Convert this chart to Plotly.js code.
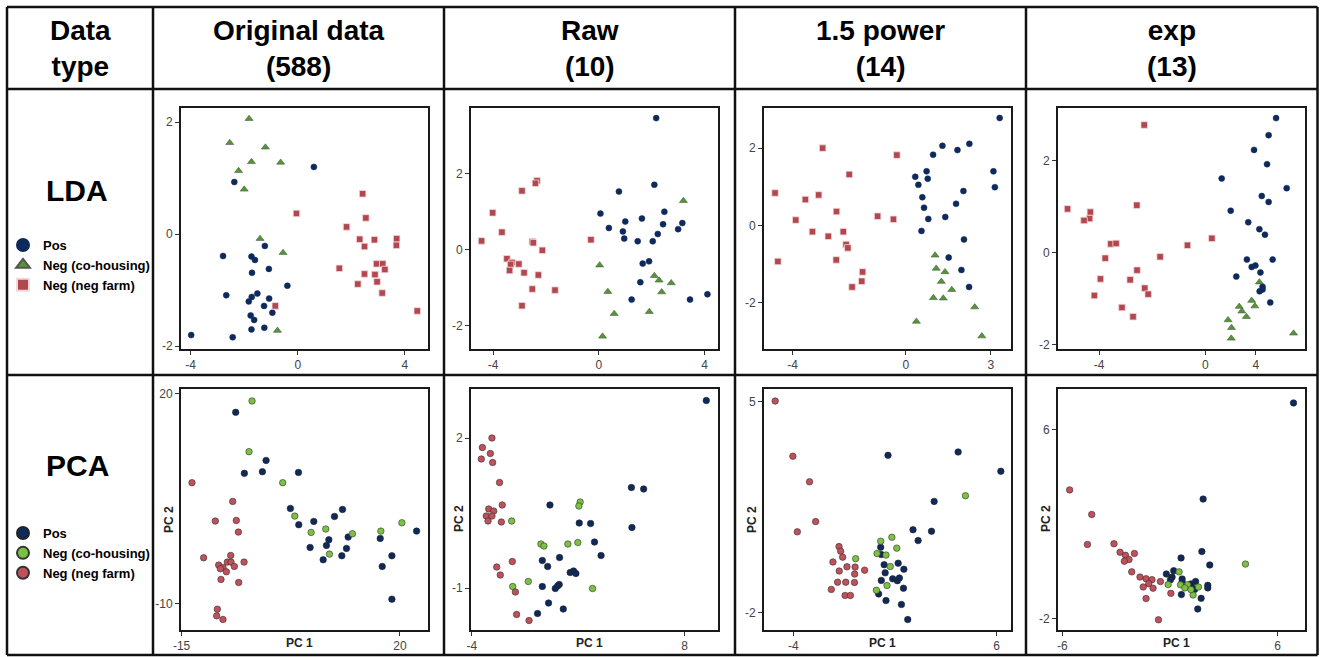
<!DOCTYPE html>
<html>
<head>
<meta charset="utf-8">
<script src="https://cdn.plot.ly/plotly-3.0.1.min.js"></script>
<style>html,body{margin:0;padding:0;background:#fff;}#chart{width:1326px;height:657px;}</style>
</head>
<body>
<div id="chart"></div>
<script>
// ---------- DATA ----------
const groupNames = ['Pos', 'Neg (co-housing)', 'Neg (neg farm)'];
const colHeaders = ['Original data<br>(588)', 'Raw<br>(10)', '1.5 power<br>(14)', 'exp<br>(13)'];
const rowHeaders = ['LDA', 'PCA'];
const cornerHeader = 'Data<br>type';

// LDA - Original data
const ldaOrigPosX = [0.60,-2.37,-1.23,-2.79,-1.73,-1.60,-1.08,-1.71,-0.39,-2.67,-1.51,-1.72,-1.07,-1.83,-1.26,-0.95,-1.76,-1.63,-1.73,-1.25,-3.98,-2.43];
const ldaOrigPosY = [1.20,0.93,-0.21,-0.39,-0.40,-0.46,-0.62,-0.69,-0.92,-1.09,-1.06,-1.12,-1.15,-1.20,-1.28,-1.40,-1.45,-1.53,-1.70,-1.67,-1.80,-1.84];
const ldaOrigCoX = [-1.82,-2.54,-1.21,-1.73,-0.64,-2.21,-2.00,-1.41,-0.55,-0.76];
const ldaOrigCoY = [2.06,1.63,1.55,1.29,1.28,1.13,0.80,-0.08,-0.33,-1.72];
const ldaOrigFarmX = [2.42,-0.05,2.54,1.82,2.31,2.86,3.69,2.49,3.68,1.55,2.94,3.17,3.25,2.49,2.88,2.96,2.24,3.15,-0.84,4.46];
const ldaOrigFarmY = [0.72,0.37,0.29,0.13,-0.09,-0.10,-0.08,-0.22,-0.20,-0.61,-0.53,-0.53,-0.63,-0.71,-0.72,-0.85,-0.89,-1.05,-1.28,-1.37];

// LDA - Raw
const ldaRawPosX = [2.17,2.10,0.76,0.06,2.48,1.00,1.63,3.16,0.38,2.43,0.91,3.00,2.23,0.96,1.47,2.04,1.90,1.66,1.57,1.24,3.45,4.11];
const ldaRawPosY = [3.47,1.71,1.53,0.95,1.00,0.74,0.82,0.70,0.57,0.67,0.48,0.54,0.41,0.29,0.22,0.22,-0.31,-0.37,-0.86,-1.32,-1.32,-1.18];
const ldaRawCoX = [3.20,0.03,2.10,2.28,2.74,0.34,2.38,0.58,1.91,0.14];
const ldaRawCoY = [1.29,-0.41,-0.69,-0.81,-0.88,-1.11,-1.12,-1.69,-1.64,-2.29];
const ldaRawFarmX = [-2.34,-2.40,-2.91,-4.02,-3.67,-4.44,-2.52,-2.48,-0.30,-2.14,-3.48,-3.29,-3.34,-3.03,-3.38,-2.83,-2.29,-2.52,-1.66,-2.91];
const ldaRawFarmY = [1.82,1.75,1.55,0.97,0.46,0.23,0.21,0.18,0.26,-0.02,-0.24,-0.34,-0.39,-0.38,-0.55,-0.61,-0.67,-1.04,-1.07,-1.48];

// LDA - 1.5 power
const ldaPowPosX = [3.31,2.24,1.29,1.82,0.96,0.73,3.09,0.33,0.77,0.44,3.14,2.03,0.58,1.77,0.64,1.39,0.79,0.55,2.05,1.51,1.96,2.23];
const ldaPowPosY = [2.78,2.11,2.06,1.95,1.83,1.40,1.40,1.26,1.21,1.05,0.99,0.89,0.73,0.56,0.46,0.22,0.17,-0.14,-0.36,-0.83,-1.15,-1.59];
const ldaPowCoX = [1.03,1.07,1.38,1.25,1.62,0.97,1.32,2.43,0.37,2.68];
const ldaPowCoY = [-0.77,-1.11,-1.20,-1.45,-1.66,-1.87,-1.88,-2.11,-2.48,-2.86];
const ldaPowFarmX = [-2.94,-0.32,-2.00,-4.62,-3.08,-3.55,-2.45,-3.89,-1.00,-0.44,-3.30,-2.21,-2.74,-2.11,-2.05,-4.52,-2.46,-1.53,-1.56,-1.90];
const ldaPowFarmY = [2.00,1.82,1.32,0.84,0.79,0.67,0.36,0.14,0.24,0.16,-0.16,-0.16,-0.28,-0.49,-0.58,-0.93,-0.89,-1.20,-1.44,-1.59];

// LDA - exp
const ldaExpPosX = [2.67,2.39,1.84,2.33,0.62,3.07,2.13,2.39,0.96,1.62,2.04,2.25,1.57,2.54,1.75,1.89,2.08,1.17,2.16,2.16,2.05,2.45];
const ldaExpPosY = [2.92,2.55,2.23,1.92,1.61,1.40,1.23,1.10,0.91,0.66,0.51,0.39,-0.15,-0.15,-0.31,-0.28,-0.43,-0.52,-0.74,-0.80,-0.84,-1.08];
const ldaExpCoX = [2.04,1.75,1.87,1.28,1.38,1.55,0.86,0.99,0.98,3.33];
const ldaExpCoY = [-0.64,-1.04,-1.16,-1.17,-1.27,-1.39,-1.46,-1.63,-1.86,-1.75];
const ldaExpFarmX = [-2.30,-5.19,-4.33,-4.36,-4.57,-2.58,0.25,-0.67,-3.56,-3.36,-3.77,-1.70,-2.57,-3.95,-2.83,-2.28,-2.15,-4.18,-3.14,-2.72];
const ldaExpFarmY = [2.77,0.95,0.88,0.74,0.70,1.03,0.31,0.16,0.19,0.20,-0.12,-0.09,-0.38,-0.57,-0.59,-0.77,-0.90,-0.93,-1.19,-1.39];

// PCA - Original data
const pcaOrigPosX = [-6.33,-1.46,-2.05,-4.94,3.73,2.44,10.79,9.51,3.78,6.19,8.60,11.70,8.22,5.60,11.43,7.69,10.68,16.84,22.67,18.71,17.16,18.71];
const pcaOrigPosY = [17.29,10.44,8.83,8.59,8.73,3.59,3.45,2.45,1.27,1.74,-0.88,-0.49,-1.68,-1.97,-2.11,-3.73,-3.16,-0.68,0.36,-3.16,-4.68,-9.34];
const pcaOrigCoX = [-3.71,-4.19,1.21,3.14,5.76,8.11,12.39,8.70,16.94,20.31];
const pcaOrigCoY = [18.91,11.68,7.26,2.50,0.17,0.65,-0.02,-2.92,0.36,1.55];
const pcaOrigFarmX = [-13.34,-6.81,-9.60,-6.23,-5.90,-11.47,-7.13,-7.67,-7.08,-4.99,-9.06,-6.55,-8.37,-8.79,-7.83,-8.69,-5.85,-9.27,-9.38,-8.37];
const pcaOrigFarmY = [7.26,4.59,1.79,1.88,0.22,-3.44,-3.11,-4.06,-4.06,-4.06,-4.49,-4.68,-4.82,-5.01,-5.44,-6.53,-6.96,-10.77,-11.72,-12.24];

// PCA - Raw
const pcaRawPosX = [9.22,5.00,5.69,5.03,0.41,2.06,2.70,2.92,3.29,0.95,-0.02,0.28,1.55,1.74,1.87,0.93,0.84,0.71,-0.02,0.33,1.16,-0.29];
const pcaRawPosY = [2.75,1.01,0.98,0.21,0.66,0.30,0.29,-0.08,-0.35,-0.39,-0.45,-0.57,-0.69,-0.66,-0.71,-0.93,-0.96,-1.01,-0.97,-1.30,-1.42,-1.51];
const pcaRawCoX = [2.11,2.04,-1.75,-0.10,0.07,1.42,1.98,-0.81,-1.69,2.81];
const pcaRawCoY = [0.72,0.64,0.34,-0.12,-0.16,-0.12,-0.09,-0.87,-0.97,-1.01];
const pcaRawFarmX = [-2.86,-3.40,-2.95,-3.46,-2.82,-2.43,-2.28,-3.04,-2.76,-3.18,-2.86,-3.08,-2.33,-1.71,-2.59,-2.39,-1.54,-1.47,-0.77];
const pcaRawFarmY = [2.00,1.81,1.69,1.58,1.51,1.11,0.66,0.58,0.54,0.44,0.44,0.34,0.32,-0.47,-0.58,-0.74,-1.08,-1.53,-1.65];

// PCA - 1.5 power
const pcaPowPosX = [0.66,4.11,6.21,2.93,1.89,2.80,2.14,0.30,0.33,0.47,1.16,1.44,0.52,0.33,0.89,1.12,1.22,1.42,0.20,0.56,1.32,1.63];
const pcaPowPosY = [3.21,3.32,2.68,1.68,0.74,0.69,0.38,0.16,-0.08,-0.42,-0.37,-0.57,-0.69,-0.94,-0.89,-0.95,-0.86,-1.20,-1.39,-1.61,-1.74,-2.24];
const pcaPowCoX = [4.47,0.30,0.85,1.09,0.12,0.56,-0.93,0.77,0.61,0.09];
const pcaPowCoY = [1.87,0.36,0.49,0.13,-0.05,-0.10,-0.22,-0.48,-1.11,-1.27];
const pcaPowFarmX = [-4.89,-4.02,-3.20,-2.90,-3.80,-1.75,-1.67,-1.57,-2.05,-1.36,-1.74,-0.96,-0.49,-0.98,-1.82,-1.42,-0.99,-2.13,-1.45,-1.19];
const pcaPowFarmY = [5.01,3.18,2.33,1.01,0.67,0.18,0.03,-0.17,-0.33,-0.49,-0.63,-0.50,-0.60,-0.73,-1.00,-1.00,-1.01,-1.24,-1.44,-1.44];

// PCA - exp
const pcaExpPosX = [6.89,1.85,1.78,2.22,0.62,0.21,-0.20,0.12,0.03,0.68,0.68,1.17,1.43,1.24,1.37,2.11,2.11,0.64,1.74,1.55];
const pcaExpPosY = [7.14,3.07,0.85,0.28,0.58,0.04,-0.10,-0.23,-0.34,-0.31,-0.44,-0.52,-0.42,-0.69,-0.76,-0.58,-0.69,-0.97,-1.13,-1.58];
const pcaExpCoX = [4.21,0.51,-0.10,0.59,0.98,0.83,1.59,1.29,1.17];
const pcaExpCoY = [0.32,-0.01,-0.55,-0.56,-0.56,-0.69,-0.65,-0.99,-0.76];
const pcaExpFarmX = [-5.59,-4.36,-4.60,-3.12,-2.78,-2.48,-1.98,-2.28,-2.54,-2.13,-1.67,-1.33,-1.00,-1.18,-1.49,-0.94,-0.53,0.05,-1.33,-0.64];
const pcaExpFarmY = [3.46,2.42,1.15,1.18,0.82,0.69,0.77,0.51,0.44,-0.01,-0.23,-0.30,-0.34,-0.51,-0.65,-0.70,-0.42,-0.92,-1.14,-2.04];

// Tick values / labels
const ldaOrigXTicks = [-4, 0, 4],  ldaOrigYTicks = [-2, 0, 2];
const ldaRawXTicks = [-4, 0, 4],   ldaRawYTicks = [-2, 0, 2];
const ldaPowXTicks = [-4, 0, 3],   ldaPowYTicks = [-2, 0, 2];
const ldaExpXTicks = [-4, 0, 1.91], ldaExpXTickText = ['-4', '0', '4'], ldaExpYTicks = [-2, 0, 2];
const pcaOrigXTicks = [-15, 20],   pcaOrigYTicks = [-10, 20];
const pcaRawXTicks = [-4, 8],      pcaRawYTicks = [-1, 2];
const pcaPowXTicks = [-4, 6],      pcaPowYTicks = [-2, 5];
const pcaExpXTicks = [-6, 6],      pcaExpYTicks = [-2, 6];
const pcXTitle = 'PC 1', pcYTitle = 'PC 2';

// ---------- LAYOUT HELPERS ----------
const W = 1326, H = 657;
const fx = p => p / W;
const fy = p => 1 - p / H;
const FONT = 'Liberation Sans, Arial, Helvetica, sans-serif';

const colPx = [[181, 428], [471, 718], [764, 1011], [1058, 1305]];
const rowPx = [[107.5, 348.5], [389, 629.5]];

const panels = [
  {r:0,c:0, d:[[ldaOrigPosX,ldaOrigPosY],[ldaOrigCoX,ldaOrigCoY],[ldaOrigFarmX,ldaOrigFarmY]], xr:[-4.36,4.86], yr:[-2.04,2.26], xt:ldaOrigXTicks, yt:ldaOrigYTicks},
  {r:0,c:1, d:[[ldaRawPosX,ldaRawPosY],[ldaRawCoX,ldaRawCoY],[ldaRawFarmX,ldaRawFarmY]], xr:[-4.84,4.51], yr:[-2.61,3.75], xt:ldaRawXTicks, yt:ldaRawYTicks},
  {r:0,c:2, d:[[ldaPowPosX,ldaPowPosY],[ldaPowCoX,ldaPowCoY],[ldaPowFarmX,ldaPowFarmY]], xr:[-5.01,3.71], yr:[-3.18,3.05], xt:ldaPowXTicks, yt:ldaPowYTicks},
  {r:0,c:3, d:[[ldaExpPosX,ldaExpPosY],[ldaExpCoX,ldaExpCoY],[ldaExpFarmX,ldaExpFarmY]], xr:[-5.55,3.76], yr:[-2.08,3.15], xt:ldaExpXTicks, xtt:ldaExpXTickText, yt:ldaExpYTicks},
  {r:1,c:0, d:[[pcaOrigPosX,pcaOrigPosY],[pcaOrigCoX,pcaOrigCoY],[pcaOrigFarmX,pcaOrigFarmY]], xr:[-15.1,24.5], yr:[-13.67,20.62], xt:pcaOrigXTicks, yt:pcaOrigYTicks},
  {r:1,c:1, d:[[pcaRawPosX,pcaRawPosY],[pcaRawCoX,pcaRawCoY],[pcaRawFarmX,pcaRawFarmY]], xr:[-4.04,9.88], yr:[-1.83,2.98], xt:pcaRawXTicks, yt:pcaRawYTicks},
  {r:1,c:2, d:[[pcaPowPosX,pcaPowPosY],[pcaPowCoX,pcaPowCoY],[pcaPowFarmX,pcaPowFarmY]], xr:[-5.44,6.71], yr:[-2.57,5.41], xt:pcaPowXTicks, yt:pcaPowYTicks},
  {r:1,c:3, d:[[pcaExpPosX,pcaExpPosY],[pcaExpCoX,pcaExpCoY],[pcaExpFarmX,pcaExpFarmY]], xr:[-6.24,7.53], yr:[-2.45,7.73], xt:pcaExpXTicks, yt:pcaExpYTicks}
];

// marker styles per row (LDA, PCA) and group
const ldaMarkers = [
  {symbol:'circle', size:6, color:'#0e2a5c', line:{color:'#0e2a5c', width:0.5}},
  {symbol:'triangle-up', size:7, color:'#4f9a2e', line:{color:'#555', width:0.6}},
  {symbol:'square', size:6.5, color:'#b3474f', line:{color:'#f0dada', width:0.8}}
];
const pcaMarkers = [
  {symbol:'circle', size:6.5, color:'#0e2a5c', line:{color:'#222', width:0.6}},
  {symbol:'circle', size:6.5, color:'#7cc142', line:{color:'#333', width:0.6}},
  {symbol:'circle', size:6.5, color:'#c0505a', line:{color:'#333', width:0.6}}
];

const traces = [];
const layout = {
  width: W, height: H,
  margin: {l:0, r:0, t:0, b:0},
  paper_bgcolor: '#fff', plot_bgcolor: '#fff',
  font: {family: FONT, color: '#000'},
  showlegend: true,
  annotations: [], shapes: []
};

panels.forEach((p, i) => {
  const s = i === 0 ? '' : String(i + 1);
  const cp = colPx[p.c], rp = rowPx[p.r];
  const ax = {
    range: p.xr, showgrid:false, zeroline:false, showline:true, mirror:true,
    linecolor:'#1a1a1a', linewidth:2, ticks:'outside', ticklen:4, tickwidth:1.2, tickcolor:'#333',
    tickfont:{family:FONT, size:12, color:'#444'}, fixedrange:true
  };
  layout['xaxis' + s] = Object.assign({}, ax, {
    domain:[fx(cp[0]), fx(cp[1])], anchor:'y' + s, range:p.xr,
    tickmode:'array', tickvals:p.xt, ticktext:p.xtt || p.xt.map(String)
  });
  layout['yaxis' + s] = Object.assign({}, ax, {
    domain:[fy(rp[1]), fy(rp[0])], anchor:'x' + s, range:p.yr,
    tickmode:'array', tickvals:p.yt, ticktext:p.yt.map(String)
  });
  const mk = p.r === 0 ? ldaMarkers : pcaMarkers;
  p.d.forEach((xy, g) => {
    traces.push({
      type:'scatter', mode:'markers', x:xy[0], y:xy[1],
      xaxis:'x' + s, yaxis:'y' + s,
      name: groupNames[g], legendgroup: 'r' + p.r + 'g' + g,
      legend: p.r === 0 ? 'legend' : 'legend2',
      showlegend: p.c === 0,
      marker: mk[g], hoverinfo:'x+y'
    });
  });
  if (p.r === 1) {
    layout.annotations.push({
      xref:'x' + s + ' domain', yref:'paper', x:0.5, y:fy(642.5), xshift:-5,
      text:pcXTitle, showarrow:false, xanchor:'center', yanchor:'middle',
      font:{family:FONT, size:12, color:'#222', weight:'bold'}
    });
    layout.annotations.push({
      xref:'x' + s + ' domain', yref:'paper', x:0, y:fy(519), xshift:-12,
      text:pcYTitle, showarrow:false, textangle:-90, xanchor:'center', yanchor:'middle',
      font:{family:FONT, size:12, color:'#222', weight:'bold'}
    });
  }
});

const legendBase = {
  xanchor:'left', yanchor:'top', itemsizing:'constant', bgcolor:'rgba(0,0,0,0)',
  borderwidth:0, tracegroupgap:0, itemclick:false, itemdoubleclick:false,
  font:{family:FONT, size:13, color:'#000', weight:'bold'}
};
layout.legend = Object.assign({}, legendBase, {x:fx(3), y:fy(230)});
layout.legend2 = Object.assign({}, legendBase, {x:fx(3), y:fy(518)});

// headers
const headFont = {family:FONT, size:28, color:'#000', weight:'bold'};
layout.annotations.push({xref:'paper', yref:'paper', x:fx(80), y:fy(48), text:cornerHeader, showarrow:false, xanchor:'center', yanchor:'middle', font:headFont});
const colCenters = [298.5, 589.5, 880.5, 1171.5];
colHeaders.forEach((t, k) => {
  layout.annotations.push({xref:'paper', yref:'paper', x:fx(colCenters[k]), y:fy(48), text:t, showarrow:false, xanchor:'center', yanchor:'middle', font:headFont});
});
const rowCenters = [190, 465];
rowHeaders.forEach((t, k) => {
  layout.annotations.push({xref:'paper', yref:'paper', x:fx(77), y:fy(rowCenters[k]), text:t, showarrow:false, xanchor:'center', yanchor:'middle', font:{family:FONT, size:30, color:'#000', weight:'bold'}});
});

// table grid
const lineStyle = {color:'#111', width:2.5};
const vLines = [7, 153, 444, 735, 1026, 1317.5];
const hLines = [7, 89, 375, 655];
vLines.forEach(xp => layout.shapes.push({type:'line', xref:'paper', yref:'paper', x0:fx(xp), x1:fx(xp), y0:fy(7), y1:fy(655), line:lineStyle}));
hLines.forEach(yp => layout.shapes.push({type:'line', xref:'paper', yref:'paper', x0:fx(7), x1:fx(1317.5), y0:fy(yp), y1:fy(yp), line:lineStyle}));

Plotly.newPlot('chart', traces, layout, {displayModeBar:false, staticPlot:false});
</script>
</body>
</html>
